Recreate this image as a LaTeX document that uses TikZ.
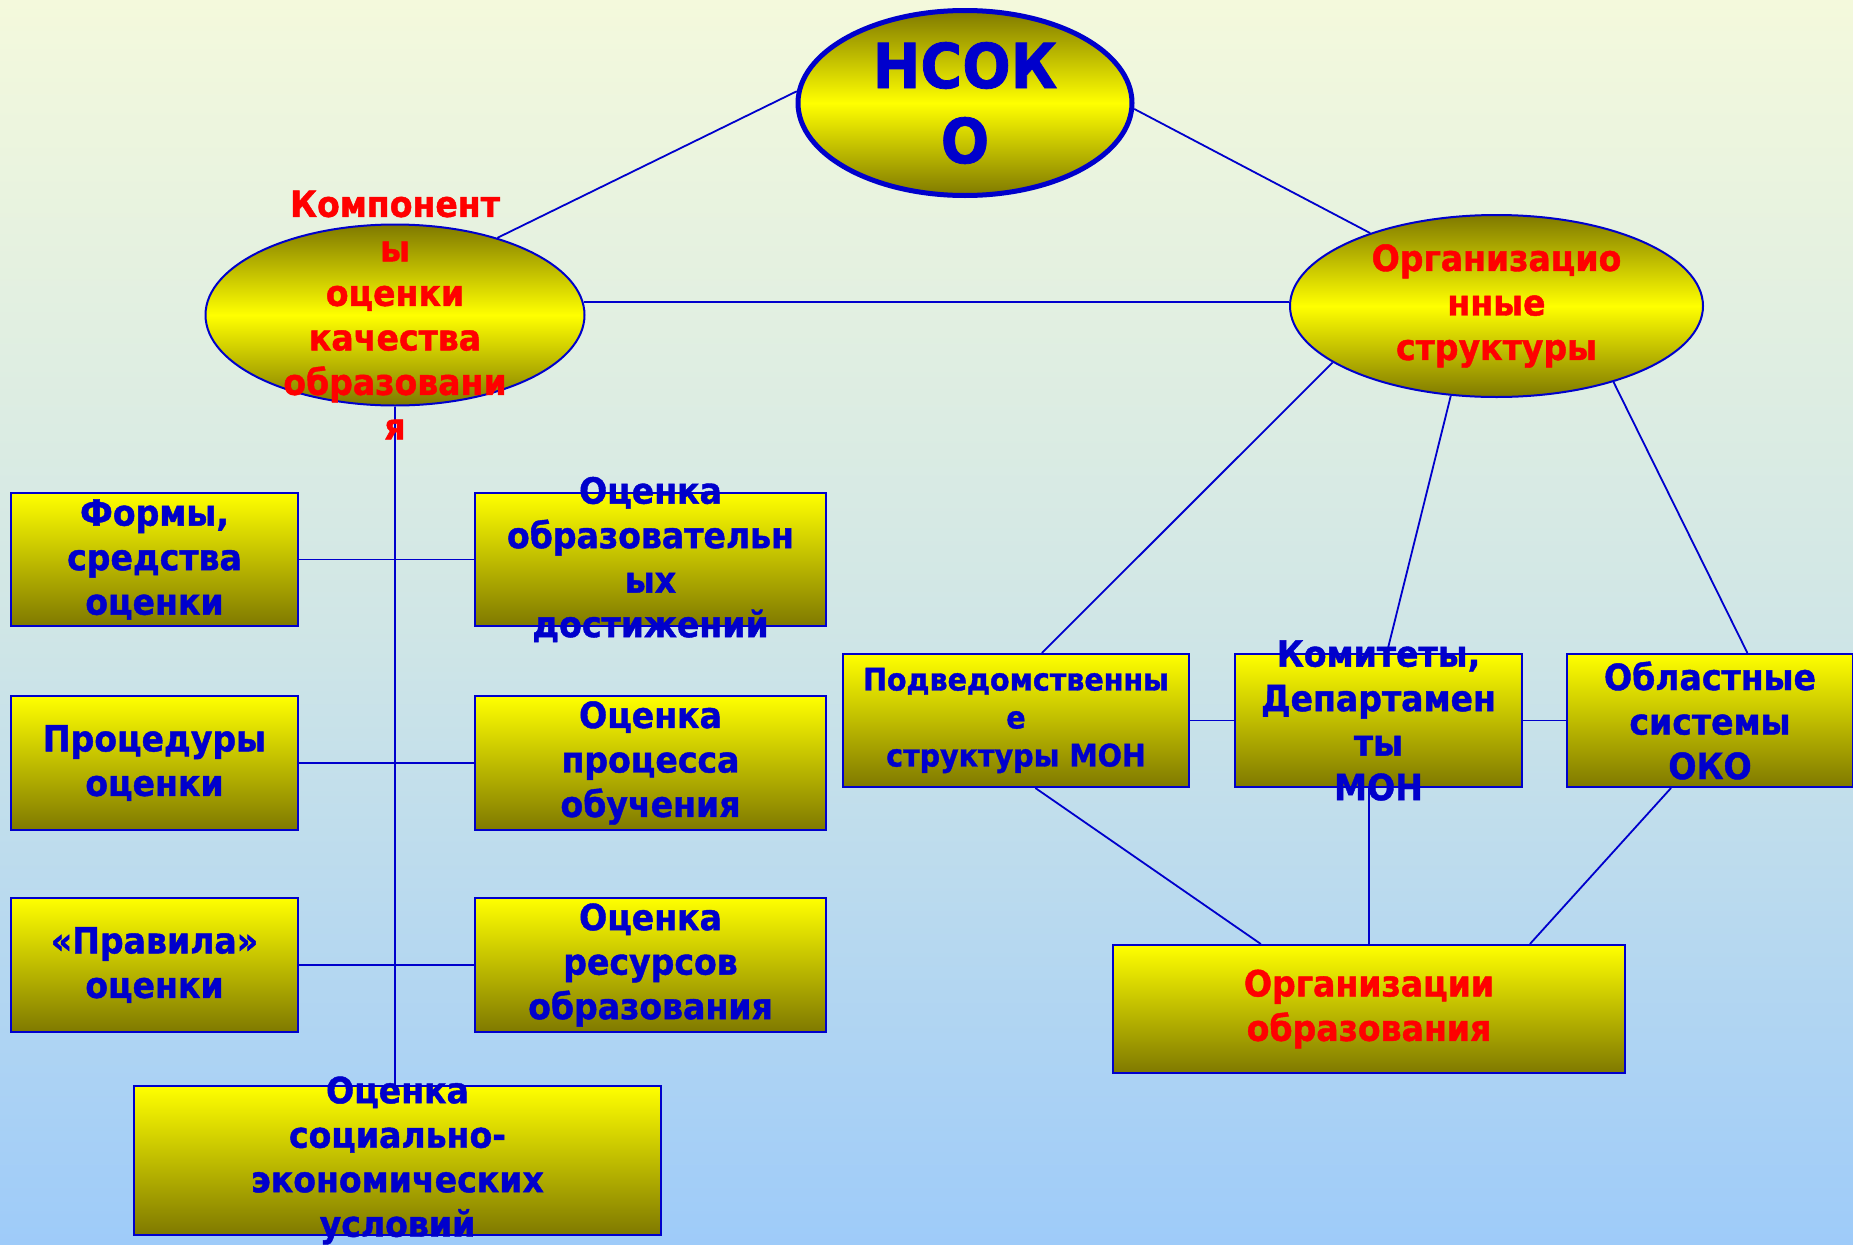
\documentclass[tikz,border=0pt]{standalone}
\usepackage{fontspec}
\setmainfont{DejaVu Sans}[FakeStretch=0.92, BoldFeatures={FakeBold=1.2}]
\usetikzlibrary{shapes.geometric}
\definecolor{bl}{HTML}{0000CC}
\definecolor{rd}{HTML}{FF0000}
\definecolor{ol}{HTML}{7F7900}
\definecolor{yl}{HTML}{FFFF00}
\definecolor{bgtop}{HTML}{F4F9DC}
\definecolor{bgmid}{HTML}{D0E6E6}
\definecolor{bgbot}{HTML}{9ECBF9}
\tikzset{
  con/.style={draw=bl, line width=1.8},
  boxs/.style={draw=bl, line width=2, rectangle, inner sep=0, top color=yl, bottom color=ol},
  ells/.style={draw=bl, line width=2, ellipse, inner sep=0, top color=ol, bottom color=ol, middle color=yl},
  txt/.style={align=center, inner sep=0, font=\bfseries\fontsize{36}{44.5}\selectfont, text=bl},
  txts/.style={align=center, inner sep=0, font=\bfseries\fontsize{31}{38}\selectfont, text=bl},
}
\begin{document}
\begin{tikzpicture}[x=1pt,y=1pt]
\useasboundingbox (0,0) rectangle (1853,-1245);
\fill[top color=bgtop, bottom color=bgbot, middle color=bgmid] (0,0) rectangle (1853,-1245);

% shapes
\node[ells, line width=5, minimum width=334, minimum height=185] (nsoko) at (965,-103) {};
\node[ells, minimum width=379, minimum height=181] (comp) at (395,-315) {};
\node[ells, minimum width=413, minimum height=182] (org) at (1496.5,-306) {};

\node[boxs, minimum width=287, minimum height=133] (f1) at (154.5,-559.5) {};
\node[boxs, minimum width=287, minimum height=134] (f2) at (154.5,-763) {};
\node[boxs, minimum width=287, minimum height=134] (f3) at (154.5,-965) {};
\node[boxs, minimum width=351, minimum height=133] (o1) at (650.5,-559.5) {};
\node[boxs, minimum width=351, minimum height=134] (o2) at (650.5,-763) {};
\node[boxs, minimum width=351, minimum height=134] (o3) at (650.5,-965) {};
\node[boxs, minimum width=527, minimum height=149] (o4) at (397.5,-1160.5) {};

\node[boxs, minimum width=346, minimum height=133] (pod) at (1016,-720.5) {};
\node[boxs, minimum width=287, minimum height=133] (kom) at (1378.5,-720.5) {};
\node[boxs, minimum width=286, minimum height=133] (obl) at (1710,-720.5) {};
\node[boxs, minimum width=512, minimum height=128] (orgb) at (1369,-1009) {};

% connectors
\draw[con] (nsoko.176) -- (comp.37);
\draw[con] (nsoko.-2.4) -- (org.150.3);
\draw[con] (comp.4.5) -- (comp.4.5 -| org.west);
\draw[con] (comp.south) -- (comp.south |- o4.north);
\draw[con] (f1.east) -- (o1.west);
\draw[con] (f2.east) -- (o2.west);
\draw[con] (f3.east) -- (o3.west);

\draw[con] (org.199.7) -- (pod.69.4);
\draw[con] (org.243.2) -- (kom.83.6);
\draw[con] (org.-33.1) -- (obl.61);
\draw[con] (pod.east) -- (kom.west);
\draw[con] (kom.east) -- (obl.west);
\draw[con] (pod.-74.9) -- (orgb.149);
\draw[con] (orgb.north) -- (orgb.north |- kom.south);
\draw[con] (obl.240.9) -- (orgb.22.6);

% texts
\node[txt, font=\bfseries\fontsize{62}{75}\selectfont] (tnsoko) at (nsoko.center) {НСОК\\О};
\node[txt, text=rd] (tcomp) at (comp.center) {Компонент\\ы\\оценки\\качества\\образовани\\я};
\node[txt, text=rd] (torg) at (org.center) {Организацио\\нные\\структуры};

\node[txt] (tf1) at (f1.center) {Формы,\\средства\\оценки};
\node[txt] (tf2) at (f2.center) {Процедуры\\оценки};
\node[txt] (tf3) at (f3.center) {«Правила»\\оценки};
\node[txt] (to1) at (o1.center) {Оценка\\образовательн\\ых\\достижений};
\node[txt] (to2) at (o2.center) {Оценка\\процесса\\обучения};
\node[txt] (to3) at (o3.center) {Оценка\\ресурсов\\образования};
\node[txt] (to4) at (o4.center) {Оценка\\социально-\\экономических\\условий};

\node[txts] (tpod) at (pod.center) {Подведомственны\\е\\структуры МОН};
\node[txt] (tkom) at (kom.center) {Комитеты,\\Департамен\\ты\\МОН};
\node[txt] (tobl) at (obl.center) {Областные\\системы\\ОКО};
\node[txt, text=rd] (torgb) at (orgb.center) {Организации\\образования};
\end{tikzpicture}
\end{document}
